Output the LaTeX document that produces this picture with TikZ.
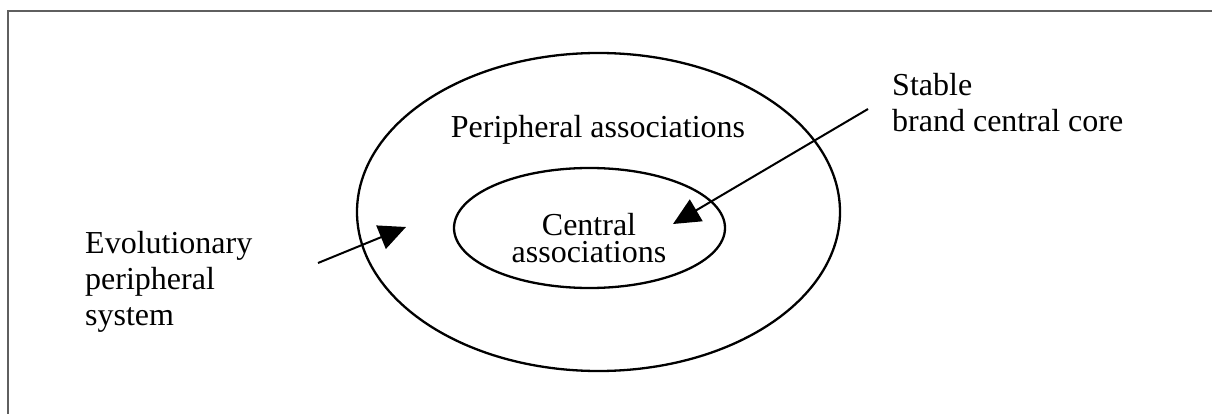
\documentclass[tikz,border=0pt]{standalone}
\usepackage{fontspec}
\setmainfont{Liberation Serif}
\usetikzlibrary{shapes.geometric,arrows.meta}
\begin{document}
\begin{tikzpicture}[x=1pt,y=-1pt,
  ring/.style={ellipse,draw=black,line width=2.3pt,inner sep=0pt},
  label/.style={font=\fontsize{32}{36}\selectfont,inner sep=0pt},
  pointer/.style={draw=black,line width=2pt,-{Triangle[length=27pt,width=25pt]}},
  frame/.style={draw={rgb,255:red,95;green,95;blue,95},line width=2pt}]
\useasboundingbox (0,0) rectangle (1212,414);
\draw[frame] (7.5,420) -- (7.5,11) -- (1220,11);
\node[ring,minimum width=483pt,minimum height=318pt] (outer) at (598.5,212) {};
\node[ring,minimum width=271pt,minimum height=120pt] (inner) at (589.5,228) {};
\node[label,anchor=base] (periph) at (598,138) {Peripheral associations};
\node[label,anchor=base,align=center,font=\fontsize{32}{27}\selectfont] (central) at (589,262) {Central\\associations};
\node[label,anchor=base west,align=left] (stable) at (892,132) {Stable\\brand central core};
\node[label,anchor=base west,align=left] (evol) at (85,325) {Evolutionary\\peripheral\\system};
\coordinate (s1) at (318,263);
\coordinate (t1) at (406,227);
\coordinate (s2) at (868,109);
\coordinate (t2) at (673,224);
\draw[pointer] (s1) -- (t1);
\draw[pointer] (s2) -- (t2);
\end{tikzpicture}
\end{document}
